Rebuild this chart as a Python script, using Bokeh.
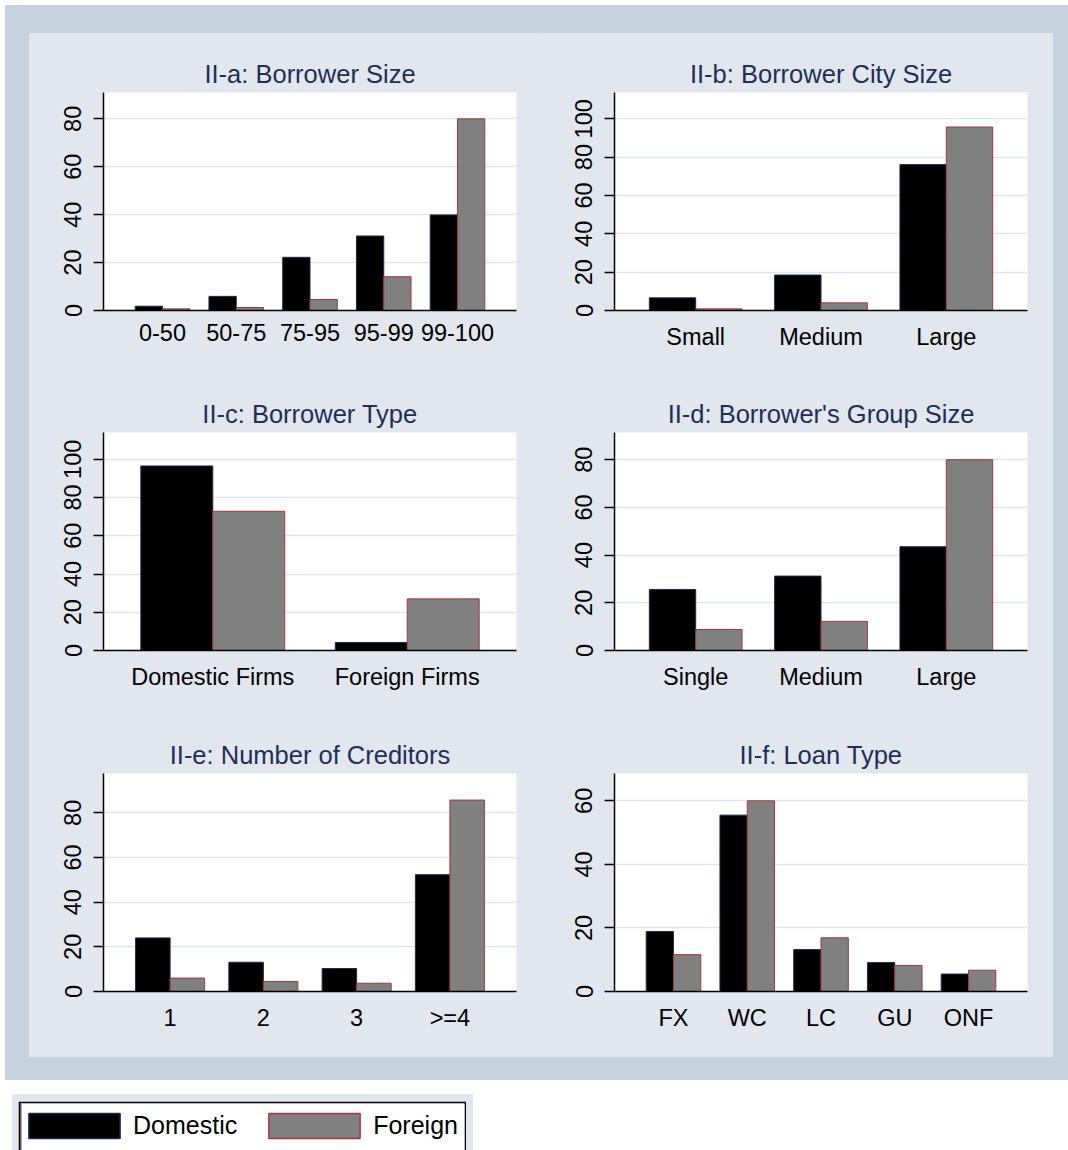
from bokeh.plotting import figure
from bokeh.layouts import column, row
from bokeh.models import (FactorRange, Range1d, FixedTicker, ColumnDataSource,
                          Legend, LegendItem, Spacer)
from bokeh.transform import dodge
from bokeh.embed import file_html
from bokeh.resources import INLINE

# ---------------- data ----------------
size_cats = ["0-50", "50-75", "75-95", "95-99", "99-100"]
size_dom = [1.8, 5.9, 22.2, 31.1, 39.9]
size_for = [0.7, 1.25, 4.6, 14.1, 80.0]

city_cats = ["Small", "Medium", "Large"]
city_dom = [6.6, 18.5, 76.1]
city_for = [0.85, 4.0, 95.7]

type_cats = ["Domestic Firms", "Foreign Firms"]
type_dom = [96.5, 4.2]
type_for = [72.8, 27.0]

group_cats = ["Single", "Medium", "Large"]
group_dom = [25.6, 31.2, 43.5]
group_for = [8.8, 12.2, 80.0]

cred_cats = ["1", "2", "3", ">=4"]
cred_dom = [24.0, 13.1, 10.3, 52.3]
cred_for = [6.0, 4.5, 3.7, 85.7]

loan_cats = ["FX", "WC", "LC", "GU", "ONF"]
loan_dom = [18.9, 55.5, 13.2, 9.1, 5.5]
loan_for = [11.6, 60.0, 16.9, 8.2, 6.7]

series_names = ["Domestic", "Foreign"]

# ---------------- styles ----------------
OUTER = "#c6d2dd"
LIGHT = "#e1e6ef"
GRID = "#dfe5ef"
TITLE_C = "#1f2f57"
DOM_FILL, DOM_LINE = "#000000", "#1f2a4f"
FOR_FILL, FOR_LINE = "#808080", "#a8343c"
FONT = "Liberation Sans"
BW = 0.37
FRAME_W, FRAME_H = 413, 218


def panel(title, cats, dom, fore, y_end, ticks, pad, left, top, bottom):
    w = 512
    p = figure(width=w, height=top + FRAME_H + bottom,
               x_range=FactorRange(*cats, range_padding=pad - 0.5,
                                   range_padding_units="absolute"),
               y_range=Range1d(0, y_end),
               output_backend="svg", toolbar_location=None,
               min_border_left=left, min_border_right=w - left - FRAME_W,
               min_border_top=top, min_border_bottom=bottom,
               styles={"background-color": LIGHT})
    src = ColumnDataSource(dict(cat=cats, dom=dom, fore=fore))
    p.vbar(x=dodge("cat", -BW / 2, range=p.x_range), top="dom", width=BW,
           source=src, fill_color=DOM_FILL, line_color=DOM_LINE, line_width=1)
    p.vbar(x=dodge("cat", BW / 2, range=p.x_range), top="fore", width=BW,
           source=src, fill_color=FOR_FILL, line_color=FOR_LINE, line_width=1)

    p.title.text = title
    p.title.align = "center"
    p.title.text_font = FONT
    p.title.text_font_size = "25.5px"
    p.title.text_font_style = "normal"
    p.title.text_color = TITLE_C

    p.background_fill_color = "white"
    p.border_fill_color = LIGHT
    p.outline_line_color = None

    xa = p.xaxis[0]
    xa.major_tick_line_color = None
    xa.minor_tick_line_color = None
    xa.axis_line_color = "black"
    xa.axis_line_width = 1.5
    xa.major_label_text_font = FONT
    xa.major_label_text_font_size = "23.5px"
    xa.major_label_text_color = "black"
    xa.major_label_standoff = 7

    ya = p.yaxis[0]
    ya.ticker = FixedTicker(ticks=ticks)
    ya.major_tick_out = 10
    ya.major_tick_in = 0
    ya.major_tick_line_width = 1.5
    ya.major_tick_line_color = "black"
    ya.minor_tick_line_color = None
    ya.axis_line_color = "black"
    ya.axis_line_width = 1.5
    ya.major_label_orientation = "vertical"
    ya.major_label_text_font = FONT
    ya.major_label_text_font_size = "23.5px"
    ya.major_label_text_color = "black"
    ya.major_label_standoff = 12

    p.xgrid.grid_line_color = None
    p.ygrid.grid_line_color = GRID
    p.ygrid.grid_line_width = 1.5
    return p


def band(w, h, color):
    b = figure(width=w, height=h, output_backend="svg", toolbar_location=None,
               min_border=0, x_axis_type=None, y_axis_type=None,
               x_range=Range1d(0, 1), y_range=Range1d(0, 1),
               styles={"background-color": color})
    b.outline_line_color = None
    b.background_fill_color = color
    b.border_fill_color = color
    return b


pa = panel("II-a: Borrower Size", size_cats, size_dom, size_for, 91.0,
           [0, 20, 40, 60, 80], 0.80, 74, 59, 64)
pb = panel("II-b: Borrower City Size", city_cats, city_dom, city_for, 113.7,
           [0, 20, 40, 60, 80, 100], 0.648, 73, 59, 64)
pc = panel("II-c: Borrower Type", type_cats, type_dom, type_for, 114.0,
           [0, 20, 40, 60, 80, 100], 0.562, 74, 58, 65)
pd = panel("II-d: Borrower's Group Size", group_cats, group_dom, group_for, 91.4,
           [0, 20, 40, 60, 80], 0.648, 73, 58, 65)
pe = panel("II-e: Number of Creditors", cred_cats, cred_dom, cred_for, 97.6,
           [0, 20, 40, 60, 80], 0.714, 74, 58, 66)
pf = panel("II-f: Loan Type", loan_cats, loan_dom, loan_for, 68.6,
           [0, 20, 40, 60], 0.80, 73, 58, 66)

# ---------------- legend ----------------
# white key box whose black edge is the figure border (top, left, right only)
leg = figure(width=448, height=49, output_backend="svg", toolbar_location=None,
             x_range=Range1d(0, 1), y_range=Range1d(0, 1),
             x_axis_type=None, y_axis_type=None,
             min_border_left=2, min_border_right=2, min_border_top=2,
             min_border_bottom=0)
leg.background_fill_color = "white"
leg.border_fill_color = "black"
leg.outline_line_color = None
# legend-only key renderers, kept outside the visible range
key_src = ColumnDataSource(dict(x=[-5.0], top=[1.0]))
r_dom = leg.vbar(x="x", top="top", width=0.1, source=key_src,
                 fill_color=DOM_FILL, line_color=DOM_LINE, line_width=1.5)
r_for = leg.vbar(x="x", top="top", width=0.1, source=key_src,
                 fill_color=FOR_FILL, line_color=FOR_LINE, line_width=1.5)
legend = Legend(items=[LegendItem(label=series_names[0], renderers=[r_dom]),
                       LegendItem(label=series_names[1], renderers=[r_for])],
                orientation="horizontal", location=(-3, 9),
                glyph_width=114, glyph_height=31, label_standoff=2,
                spacing=20, padding=0, margin=0,
                border_line_color=None, background_fill_alpha=0,
                label_text_font=FONT,
                label_text_font_size="25px", label_text_color="black",
                label_height=31)
leg.add_layout(legend, "center")

legend_block = column(band(461, 7, LIGHT),
                      row(band(6, 49, LIGHT), leg, band(7, 49, LIGHT)),
                      styles={"background-color": LIGHT})

grid = column(row(pa, pb, styles={"background-color": LIGHT}),
              row(pc, pd, styles={"background-color": LIGHT}),
              row(pe, pf, styles={"background-color": LIGHT}),
              styles={"background-color": LIGHT})
middle = row(band(24, 1024, OUTER), grid, band(15, 1024, OUTER),
             styles={"background-color": OUTER})
frame_block = column(band(1063, 28, OUTER), middle, band(1063, 23, OUTER),
                     styles={"background-color": OUTER})
layout = column(Spacer(width=1068, height=5),
                row(Spacer(width=5, height=1075), frame_block),
                Spacer(width=1068, height=14),
                row(Spacer(width=12, height=56), legend_block))

open("out.html", "w").write(file_html(layout, INLINE))
